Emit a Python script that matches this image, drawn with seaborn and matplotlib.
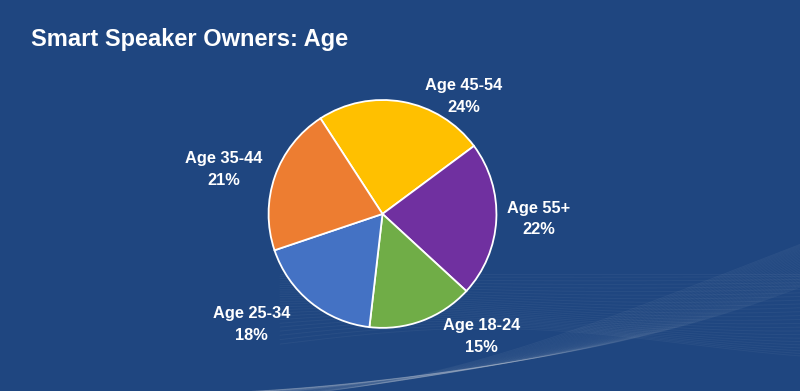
import numpy as np
import matplotlib
matplotlib.use("Agg")
import matplotlib.pyplot as plt
import seaborn as sns

# Data
age_groups = ["Age 45-54", "Age 55+", "Age 18-24", "Age 25-34", "Age 35-44"]
shares = [24, 22, 15, 18, 21]
slice_colors = ["#FFC000", "#7030A0", "#70AD47", "#4472C4", "#ED7D31"]

# label placement (pie data units), by slice
label_pos = [(0.71, 1.03), (1.37, -0.045), (0.87, -1.075), (-1.15, -0.97), (-1.39, 0.39)]

sns.set_style("white")
plt.rcParams["font.family"] = ["Liberation Sans", "DejaVu Sans"]

bg = "#1F4680"
fig = plt.figure(figsize=(8, 3.91), dpi=100, facecolor=bg)

# decorative waves in the lower right
bg_ax = fig.add_axes([0, 0, 1, 1], zorder=0)
bg_ax.set_xlim(0, 1)
bg_ax.set_ylim(0, 1)
bg_ax.axis("off")
xs = np.linspace(0.25, 1.0, 400)
for k in range(30):
    t = k / 29
    u = (xs - 0.25) / 0.75
    ys = -0.02 + (0.30 + 0.08 * t) * u ** (1.9 - 0.3 * t) + 0.015 * np.sin(5 * u + 3 * t)
    bg_ax.plot(xs, ys, color="white", alpha=0.05, lw=0.7)
xs2 = np.linspace(0.35, 1.0, 400)
for k in range(25):
    t = k / 24
    u = (xs2 - 0.35) / 0.65
    ys = 0.12 + 0.18 * t + 0.04 * np.sin(4 * u + 2.5 * t) * (1 - t)
    bg_ax.plot(xs2, ys, color="white", alpha=0.045, lw=0.7)

ax = fig.add_axes([0.335, 0.16, 0.28625, 0.5857], zorder=1)
wedges, _ = ax.pie(
    shares,
    colors=slice_colors,
    startangle=123,
    counterclock=False,
    wedgeprops={"edgecolor": "white", "linewidth": 1.3},
)
ax.set_xlim(-1.005, 1.005)
ax.set_ylim(-1.005, 1.005)
ax.set_aspect("equal")

for name, val, (lx, ly) in zip(age_groups, shares, label_pos):
    ax.text(lx, ly, f"{name}\n{val}%", ha="center", va="center",
            color="white", fontsize=11.8, fontweight="bold", linespacing=1.55,
            clip_on=False)

fig.text(0.039, 0.900, "Smart Speaker Owners: Age", color="white",
         fontsize=17, fontweight="bold", ha="left", va="center")

fig.savefig("out.png", dpi=100, facecolor=bg)
